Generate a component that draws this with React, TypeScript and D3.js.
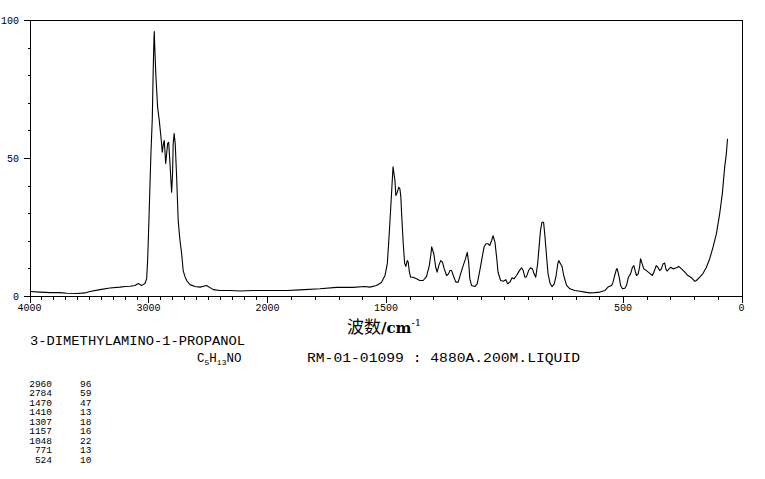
import React from "react";
import * as d3 from "d3";

// ---- data ----
const wavenumbers = [
  3996, 3912, 3828, 3744, 3685, 3601, 3534, 3492, 3408, 3324, 3239, 3197, 3155, 3113, 3086, 3057, 3046, 3029,
  3015, 3007, 3000, 2993, 2979, 2968, 2960, 2954, 2951, 2945, 2937, 2923, 2909, 2892, 2884, 2872, 2867, 2855,
  2847, 2839, 2830, 2822, 2811, 2805, 2797, 2792, 2784, 2775, 2763, 2750, 2735, 2721, 2708, 2693, 2679, 2651,
  2609, 2567, 2511, 2455, 2399, 2315, 2231, 2122, 2000, 1918, 1863, 1778, 1708, 1639, 1589, 1568, 1540, 1519,
  1504, 1494, 1486, 1478, 1470, 1462, 1458, 1452, 1446, 1441, 1437, 1433, 1427, 1421, 1416, 1410, 1406, 1402,
  1396, 1385, 1371, 1357, 1343, 1329, 1317, 1310, 1307, 1298, 1290, 1284, 1277, 1269, 1261, 1254, 1244, 1236,
  1230, 1223, 1216, 1205, 1195, 1185, 1174, 1164, 1157, 1151, 1146, 1139, 1125, 1115, 1104, 1094, 1086, 1078,
  1069, 1062, 1054, 1048, 1040, 1033, 1027, 1016, 1005, 994, 987, 977, 968, 960, 949, 938, 928, 921, 914, 907,
  898, 890, 882, 875, 868, 860, 854, 848, 842, 835, 830, 822, 816, 807, 799, 790, 782, 775, 771, 763, 757, 750,
  738, 724, 703, 682, 661, 640, 619, 597, 576, 563, 548, 542, 535, 527, 524, 516, 510, 502, 492, 485, 477, 468,
  460, 454, 449, 443, 436, 430, 426, 419, 412, 401, 387, 376, 367, 360, 353, 345, 338, 331, 324, 319, 314, 306,
  298, 289, 274, 265, 253, 239, 226, 211, 197, 190, 176, 162, 148, 134, 120, 106, 92, 81, 71, 64, 59,
];
const intensities = [
  1.8, 1.6, 1.4, 1.4, 1.2, 1.1, 1.3, 1.8, 2.5, 3.1, 3.4, 3.6, 3.7, 4.0, 4.7, 4.0, 4.3, 4.7,
  6.5, 13, 22, 32, 52, 64, 82, 93, 96, 88, 79.5, 68.6, 63.8, 56.5, 52.3, 55.9, 56.5, 48.2,
  51.8, 55.4, 55.9, 50.5, 42, 37.8, 45, 55.4, 59, 55.4, 43.2, 27.5, 20.3, 15.6, 9.4, 7.2, 5.8, 4.3,
  3.6, 3.4, 4.0, 2.5, 2.2, 2.2, 2.0, 2.2, 2.2, 2.2, 2.4, 2.8, 3.3, 3.3, 3.6, 3.4, 4.0, 5.1,
  7.6, 12, 22.8, 34.8, 47, 42, 36.6, 37.8, 39.6, 39, 36, 28.7, 19.2, 12, 10.9, 13, 12.5, 9.4,
  7.0, 7.0, 6.4, 5.8, 5.8, 7.2, 11.2, 15.5, 18, 15.5, 10.6, 8.8, 11.2, 13, 12.4, 10, 7.6, 8.2,
  9.4, 9.4, 7.6, 5.2, 5.2, 8.2, 11.2, 13.7, 16, 12.4, 6.4, 4.0, 3.6, 4.6, 9.4, 14.2, 17.9, 19.1,
  19.1, 18.5, 20.3, 22, 19.7, 14.2, 8.8, 5.8, 5.5, 6.1, 4.6, 5.2, 6.8, 6.4, 7.6, 9.2, 10.4, 9.4, 7.0, 7.2,
  9.4, 10.4, 10, 8.2, 7.0, 11.8, 17.9, 23.9, 26.9, 26.9, 22.7, 14.2, 8.2, 4.6, 3.6, 4.6, 7.6, 11.8, 13, 11.8, 10.9, 7.6,
  4.0, 2.8, 2.2, 1.9, 1.6, 1.3, 1.4, 1.6, 2.2, 3.4, 4.0, 5.2, 7.6, 10, 10, 7.0, 4.0, 2.8, 3.0, 4.0, 7.0, 8.2,
  10.6, 11.2, 9.4, 7.6, 8.2, 10.6, 13.7, 11.8, 10, 9.4, 8.4, 7.6, 9.4, 11.2, 10.6, 9.4, 10, 11.8, 12.1, 10, 9.2, 10,
  10.6, 10, 10.4, 10.9, 10, 8.8, 7.6, 6.8, 5.5, 5.8, 7.0, 8.4, 10.6, 13.7, 17.9, 22.7, 30, 37.2, 46.8, 51.7, 57.1,
];

const xTickLabels = [4000, 3000, 2000, 1500, 500, 0];
const yTickLabels = [0, 50, 100];

const peakWavenumbers = ["2960", "2784", "1470", "1410", "1307", "1157", "1048", "771", "524"];
const peakIntensities = ["96", "59", "47", "13", "18", "16", "22", "13", "10"];

const compoundName = "3-DIMETHYLAMINO-1-PROPANOL";
const sampleInfo = "RM-01-01099 : 4880A.200M.LIQUID";

export default function App() {
  const W = 765;
  const H = 479;
  const x = d3.scaleLinear().domain([4000, 2000, 0]).range([29.5, 267.4, 741.5]);
  const y = d3.scaleLinear().domain([0, 100]).range([296.5, 20.5]);

  const pts: [number, number][] = wavenumbers.map((w, i) => [w, intensities[i]]);
  const line = d3
    .line<[number, number]>()
    .x((d) => x(d[0]))
    .y((d) => y(d[1]))
    .curve(d3.curveLinear);

  const minorX = d3.range(0, 4001, 100);
  const minorY = d3.range(0, 101, 10);
  const mono = "'Liberation Mono', 'DejaVu Sans Mono', monospace";

  const x0 = Math.round(x(4000)) + 0.5;
  const x1 = Math.round(x(0)) + 0.5;
  const yTop = y(100);
  const yBot = y(0);

  return (
    <svg
      width={W}
      height={H}
      viewBox={`0 0 ${W} ${H}`}
      style={{ position: "absolute", left: 0, top: 0, background: "#fff" }}
    >
      <rect x={0} y={0} width={W} height={H} fill="#fff" />
      {/* frame */}
      <g stroke="#000" strokeWidth={1} shapeRendering="crispEdges" fill="none">
        <line x1={x0} x2={x1} y1={yTop} y2={yTop} />
        <line x1={x0} x2={x1} y1={yBot} y2={yBot} />
        <line x1={x0} x2={x0} y1={yTop} y2={yBot} />
        <line x1={x1} x2={x1} y1={yTop} y2={yBot} />
        {minorX.map((v) => {
          const major = xTickLabels.includes(v);
          const px = Math.round(x(v)) + 0.5;
          return <line key={"xt" + v} x1={px} x2={px} y1={yBot} y2={yBot + (major ? 6 : 3)} />;
        })}
        {minorY.map((v) => {
          const major = yTickLabels.includes(v);
          const py = Math.round(y(v) - 0.5) + 0.5;
          return <line key={"yt" + v} x1={x0 - (major ? 7 : 3)} x2={x0} y1={py} y2={py} />;
        })}
      </g>

      {/* y labels */}
      {yTickLabels.map((v) => (
        <text
          key={"yl" + v}
          x={19}
          y={y(v) + 3.5}
          textAnchor="end"
          fontFamily={mono}
          fontSize={10}
          fill="#000"
        >
          {v}
        </text>
      ))}
      {/* x labels */}
      {xTickLabels.map((v) => (
        <text
          key={"xl" + v}
          x={x(v)}
          y={311}
          textAnchor="middle"
          fontFamily={mono}
          fontSize={10}
          fill="#000"
        >
          {v}
        </text>
      ))}

      {/* spectrum */}
      <path d={line(pts) ?? ""} fill="none" stroke="#000" strokeWidth={1.1} strokeLinejoin="round" />

      {/* axis title */}
      <text x={347} y={333} fontSize={17} fill="#000" fontFamily="'Noto Sans CJK SC', sans-serif">
        波数
        <tspan fontFamily="'DejaVu Serif', 'Liberation Serif', serif" fontWeight="bold" fontSize={15}>/cm</tspan>
        <tspan fontFamily="'DejaVu Serif', serif" fontSize={10} dy={-7}>-1</tspan>
      </text>

      {/* compound info */}
      <text x={30} y={345} fontFamily={mono} fontSize={12.5} fill="#000" textLength={215} lengthAdjust="spacingAndGlyphs">
        {compoundName}
      </text>
      <text x={197} y={362} fontFamily={mono} fontSize={12.5} fill="#000">
        C<tspan fontSize={8} dy={3}>5</tspan>
        <tspan dy={-3}>H</tspan>
        <tspan fontSize={8} dy={3}>13</tspan>
        <tspan dy={-3}>NO</tspan>
      </text>
      <text x={307} y={362} fontFamily={mono} fontSize={12.5} fill="#000" textLength={273} lengthAdjust="spacingAndGlyphs">
        {sampleInfo}
      </text>

      {/* peak table */}
      {peakWavenumbers.map((w, i) => (
        <g key={"pk" + i}>
          <text x={52} y={386.5 + i * 9.5} textAnchor="end" fontFamily={mono} fontSize={9.5} fill="#000">
            {w}
          </text>
          <text x={80} y={386.5 + i * 9.5} fontFamily={mono} fontSize={9.5} fill="#000">
            {peakIntensities[i]}
          </text>
        </g>
      ))}
    </svg>
  );
}
